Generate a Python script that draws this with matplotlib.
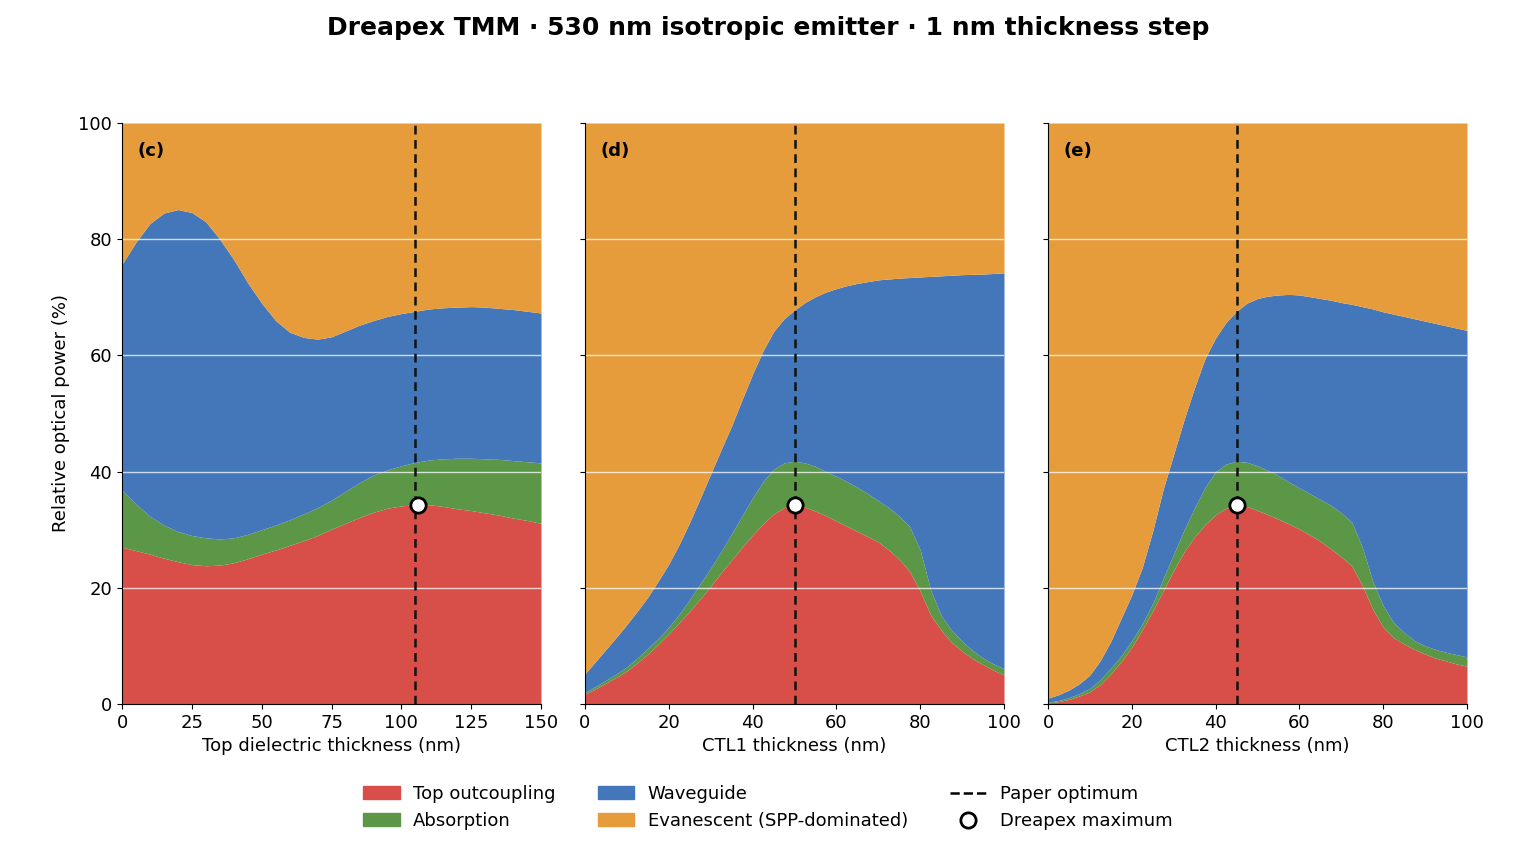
import numpy as np
import matplotlib
matplotlib.use("Agg")
import matplotlib.pyplot as plt
from matplotlib.patches import Patch
from matplotlib.lines import Line2D

# ---------------- data (cumulative boundaries, % of emitted power) ----------------
x_c = [0, 5, 10, 15, 20, 25, 30, 35, 40, 45, 50, 55, 60, 65, 70, 75, 80, 85, 90, 95,
       100, 105, 110, 115, 120, 125, 130, 135, 140, 145, 150]
out_c = [27.0, 26.4, 25.8, 25.1, 24.5, 24.0, 23.8, 23.9, 24.3, 25.0, 25.8, 26.5, 27.3, 28.1,
         29.0, 30.1, 31.1, 32.1, 33.0, 33.7, 34.1, 34.3, 34.3, 34.0, 33.6, 33.3, 32.9, 32.5,
         32.0, 31.6, 31.1]
abs_top_c = [36.8, 34.4, 32.3, 30.8, 29.7, 29.0, 28.6, 28.4, 28.6, 29.2, 30.0, 30.8, 31.7, 32.7,
             33.8, 35.1, 36.6, 38.1, 39.4, 40.3, 41.0, 41.6, 42.0, 42.2, 42.3, 42.3, 42.2, 42.1,
             41.9, 41.7, 41.5]
wg_top_c = [75.7, 79.5, 82.7, 84.5, 85.1, 84.6, 83.0, 80.0, 76.5, 72.5, 69.0, 66.0, 64.0, 63.1,
            62.8, 63.2, 64.2, 65.2, 66.0, 66.7, 67.2, 67.6, 68.0, 68.2, 68.3, 68.4, 68.3, 68.1,
            67.9, 67.6, 67.3]

x_d = [0, 2.5, 5, 7.5, 10, 12.5, 15, 17.5, 20, 22.5, 25, 27.5, 30, 32.5, 35, 37.5, 40, 42.5,
       45, 47.5, 50, 52.5, 55, 57.5, 60, 62.5, 65, 67.5, 70, 72.5, 75, 77.5, 80, 82.5, 85,
       87.5, 90, 92.5, 95, 97.5, 100]
out_d = [1.7, 2.6, 3.6, 4.6, 5.7, 7.1, 8.6, 10.3, 12.1, 14.0, 16.0, 18.1, 20.3, 22.6, 24.8,
         27.0, 29.1, 31.0, 32.7, 33.8, 34.3, 33.9, 33.2, 32.4, 31.5, 30.6, 29.7, 28.8, 27.9,
         26.5, 24.9, 22.8, 19.4, 15.3, 12.7, 10.6, 9.1, 7.8, 6.8, 5.8, 5.0]
abs_top_d = [2.0, 3.0, 4.1, 5.2, 6.4, 7.9, 9.6, 11.3, 13.2, 15.5, 18.0, 20.7, 23.4, 26.3, 29.3,
             32.4, 35.5, 38.3, 40.4, 41.5, 41.8, 41.5, 40.9, 40.0, 39.2, 38.3, 37.3, 36.2, 35.0,
             33.8, 32.3, 30.5, 26.5, 19.6, 15.2, 12.7, 10.8, 9.2, 7.9, 6.9, 6.1]
wg_top_d = [5.2, 7.3, 9.4, 11.5, 13.7, 16.0, 18.4, 21.2, 24.1, 27.5, 31.3, 35.4, 39.6, 43.8,
            47.9, 52.4, 56.8, 60.8, 64.1, 66.3, 67.8, 69.1, 70.1, 70.9, 71.5, 72.0, 72.4, 72.7,
            73.0, 73.15, 73.3, 73.4, 73.5, 73.6, 73.7, 73.8, 73.9, 73.95, 74.0, 74.1, 74.2]

x_e = [0, 2.5, 5, 7.5, 10, 12.5, 15, 17.5, 20, 22.5, 25, 27.5, 30, 32.5, 35, 37.5, 40, 42.5,
       45, 47.5, 50, 52.5, 55, 57.5, 60, 62.5, 65, 67.5, 70, 72.5, 75, 77.5, 80, 82.5, 85,
       87.5, 90, 92.5, 95, 97.5, 100]
out_e = [0.2, 0.4, 0.8, 1.4, 2.1, 3.4, 5.2, 7.3, 9.8, 12.8, 16.0, 19.5, 23.0, 26.2, 28.8, 30.9,
         32.6, 33.7, 34.3, 34.0, 33.3, 32.6, 31.8, 31.0, 30.1, 29.1, 28.0, 26.7, 25.3, 23.8,
         20.4, 16.3, 13.2, 11.4, 10.3, 9.4, 8.6, 7.9, 7.4, 6.9, 6.5]
abs_top_e = [0.3, 0.6, 1.1, 1.8, 2.7, 4.2, 6.2, 8.3, 10.9, 13.8, 17.3, 21.6, 25.8, 30.0, 33.8,
             37.3, 40.0, 41.3, 41.8, 41.6, 41.0, 40.2, 39.3, 38.2, 37.2, 36.2, 35.2, 34.2, 32.9,
             31.3, 27.0, 21.1, 16.9, 14.0, 12.3, 10.9, 10.0, 9.4, 8.9, 8.5, 8.1]
wg_top_e = [1.0, 1.6, 2.4, 3.5, 5.0, 7.5, 10.8, 14.8, 18.8, 23.5, 29.8, 37.0, 43.0, 49.0, 54.5,
            59.5, 63.0, 65.7, 67.6, 69.0, 69.8, 70.2, 70.4, 70.5, 70.4, 70.1, 69.8, 69.5, 69.1,
            68.8, 68.4, 68.0, 67.5, 67.1, 66.7, 66.3, 65.9, 65.5, 65.1, 64.7, 64.3]

paper_opt = [105, 50, 45]
dreapex_x = [106, 50, 45]
dreapex_y = [34.3, 34.3, 34.3]

panel_labels = ["(c)", "(d)", "(e)"]
xlabels = ["Top dielectric thickness (nm)", "CTL1 thickness (nm)", "CTL2 thickness (nm)"]
xticks_list = [[0, 25, 50, 75, 100, 125, 150], [0, 20, 40, 60, 80, 100], [0, 20, 40, 60, 80, 100]]
xlims = [150, 100, 100]
series_names = ["Top outcoupling", "Absorption", "Waveguide", "Evanescent (SPP-dominated)"]
title = "Dreapex TMM · 530 nm isotropic emitter · 1 nm thickness step"

C_RED = "#d84e48"
C_GREEN = "#5b9746"
C_BLUE = "#4477b9"
C_ORANGE = "#e69c3b"

panels = [(x_c, out_c, abs_top_c, wg_top_c),
          (x_d, out_d, abs_top_d, wg_top_d),
          (x_e, out_e, abs_top_e, wg_top_e)]

FS = 13

fig = plt.figure(figsize=(15.36, 8.64), dpi=100)
lefts = [122 / 1536, 585 / 1536, 1048 / 1536]
w = 419 / 1536
b = 1 - 704 / 864
h = 581 / 864

for i, (x, o, a, wv) in enumerate(panels):
    ax = fig.add_axes([lefts[i], b, w, h])
    x = np.asarray(x, float)
    o = np.asarray(o, float)
    a = np.asarray(a, float)
    wv = np.asarray(wv, float)
    ax.fill_between(x, 0, o, color=C_RED, lw=0)
    ax.fill_between(x, o, a, color=C_GREEN, lw=0)
    ax.fill_between(x, a, wv, color=C_BLUE, lw=0)
    ax.fill_between(x, wv, 100, color=C_ORANGE, lw=0)
    for yy in [20, 40, 60, 80]:
        ax.axhline(yy, color="white", lw=1.0, alpha=0.75, zorder=2)
    ax.axvline(paper_opt[i], color="#111111", lw=1.8, ls=(0, (3.5, 2.2)), zorder=3)
    ax.plot([dreapex_x[i]], [dreapex_y[i]], "o", ms=11, mfc="white", mec="black", mew=2, zorder=4)
    ax.set_xlim(0, xlims[i])
    ax.set_ylim(0, 100)
    ax.set_xticks(xticks_list[i])
    ax.set_yticks([0, 20, 40, 60, 80, 100])
    if i > 0:
        ax.set_yticklabels([])
    else:
        ax.set_ylabel("Relative optical power (%)", fontsize=FS, labelpad=6)
    ax.set_xlabel(xlabels[i], fontsize=FS, labelpad=4)
    ax.tick_params(labelsize=FS)
    for s in ["top", "right"]:
        ax.spines[s].set_visible(False)
    ax.text(0.036, 0.952, panel_labels[i], transform=ax.transAxes, fontsize=FS,
            fontweight="bold", va="center", ha="left")

fig.text(0.5, 1 - 28 / 864, title, ha="center", va="center", fontsize=18, fontweight="bold")

handles = [Patch(color=C_RED, label=series_names[0]),
           Patch(color=C_GREEN, label=series_names[1]),
           Patch(color=C_BLUE, label=series_names[2]),
           Patch(color=C_ORANGE, label=series_names[3]),
           Line2D([], [], color="black", ls="--", lw=1.8, label="Paper optimum"),
           Line2D([], [], marker="o", ls="none", ms=11, mfc="white", mec="black", mew=2,
                  label="Dreapex maximum")]
fig.legend(handles=handles, ncol=3, loc="center", bbox_to_anchor=(0.5, 1 - 807.5 / 864),
           frameon=False, fontsize=FS, columnspacing=2.35, handlelength=2.0,
           handletextpad=0.75, labelspacing=0.5)

fig.savefig("out.png", dpi=100)
